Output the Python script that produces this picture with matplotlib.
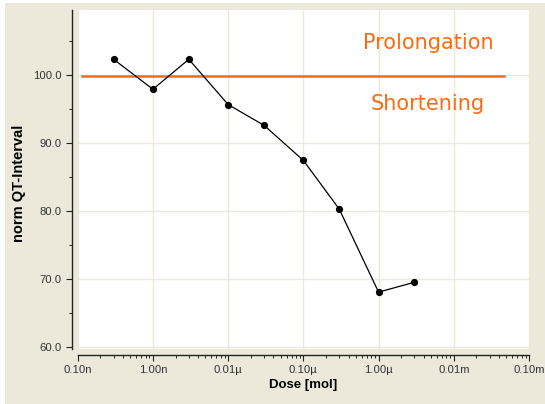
import numpy as np
import matplotlib
matplotlib.use('Agg')
import matplotlib.pyplot as plt
from matplotlib.patches import Rectangle
from matplotlib.ticker import FixedLocator, LogLocator, NullFormatter

# data
dose = [3e-10, 1e-9, 3e-9, 1e-8, 3e-8, 1e-7, 3e-7, 1e-6, 3e-6]
qt = [102.3, 97.9, 102.3, 95.65, 92.6, 87.45, 80.3, 68.1, 69.55]

x_ticks = [1e-10, 1e-9, 1e-8, 1e-7, 1e-6, 1e-5, 1e-4]
x_labels = ['0.10n', '1.00n', '0.01\u00b5', '0.10\u00b5', '1.00\u00b5', '0.01m', '0.10m']
y_ticks = [60, 70, 80, 90, 100]
y_labels = ['60.0', '70.0', '80.0', '90.0', '100.0']

threshold = 99.85
threshold_span = [1.13e-10, 4.6e-5]

beige = '#ece9da'
orange = '#ff6a10'

plt.rcParams['font.family'] = ['Liberation Sans', 'DejaVu Sans']

fig = plt.figure(figsize=(5.45, 4.04), dpi=100, facecolor='white')
fig.patches.append(Rectangle((5 / 545, 0), 1, 1 - 3 / 404, transform=fig.transFigure,
                             facecolor=beige, edgecolor='none', zorder=-10))
ax = fig.add_axes([0.1426, 0.1354, 0.828, 0.840])
ax.set_facecolor('white')

ax.plot(dose, qt, color='black', lw=0.9, marker='o', ms=4.2, zorder=3)
ax.plot(threshold_span, [threshold, threshold], color=orange, lw=1.8, zorder=2)

ax.text(0.776, 0.884, 'Prolongation', transform=ax.transAxes, ha='center', va='baseline',
        color=orange, fontsize=15, family='DejaVu Sans')
ax.text(0.776, 0.705, 'Shortening', transform=ax.transAxes, ha='center', va='baseline',
        color=orange, fontsize=15, family='DejaVu Sans')

ax.set_xscale('log')
ax.set_xlim(1e-10, 1e-4)
ax.set_ylim(59.7, 109.55)

ax.xaxis.set_major_locator(FixedLocator(x_ticks))
ax.set_xticklabels(x_labels)
ax.xaxis.set_minor_locator(LogLocator(base=10, subs=np.arange(2, 10)))
ax.xaxis.set_minor_formatter(NullFormatter())
ax.yaxis.set_major_locator(FixedLocator(y_ticks))
ax.set_yticklabels(y_labels)
ax.yaxis.set_minor_locator(FixedLocator([65, 75, 85, 95, 105]))

ax.grid(True, which='major', color=beige, lw=1.0, zorder=0)
ax.set_axisbelow(True)

for s in ['top', 'right']:
    ax.spines[s].set_visible(False)
for s in ['left', 'bottom']:
    ax.spines[s].set_position(('outward', 4.3))
    ax.spines[s].set_color('#222222')
    ax.spines[s].set_linewidth(1.0)

ax.tick_params(which='major', direction='out', length=4, width=0.8, color='#222222',
               labelsize=8.1, labelcolor='#333333', pad=3)
ax.tick_params(which='minor', direction='out', length=2.2, width=0.7, color='#222222')

ax.set_xlabel('Dose [mol]', fontsize=9.5, fontweight='bold', labelpad=3)
ax.set_ylabel('norm QT-Interval', fontsize=10.5, fontweight='bold')
ax.yaxis.set_label_coords(19.5 / 545, 1 - 183 / 404, transform=fig.transFigure)
ax.yaxis.label.set_verticalalignment('center')

fig.savefig('out.png', dpi=100, facecolor=fig.get_facecolor())
